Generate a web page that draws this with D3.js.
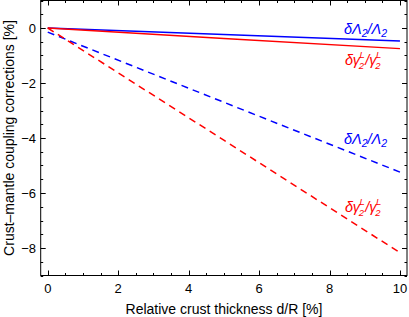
<html>
<head>
<script src="https://cdn.jsdelivr.net/npm/d3@7"></script>
<style>
body { margin: 0; background: #fff; }
text { font-family: "Liberation Sans", Arial, sans-serif; }
</style>
</head>
<body>
<svg id="chart" width="409" height="317"></svg>
<script>
var thickness = [0, 5, 10];
var lambdaSolid = [0, -0.24, -0.47];
var gammaSolid = [0, -0.38, -0.75];
var lambdaDashed = [-0.15, -2.70, -5.24];
var gammaDashed = [0, -4.08, -8.17];
var xTicks = [0, 2, 4, 6, 8, 10];
var yTicks = [0, -2, -4, -6, -8];

var svg = d3.select("#chart");
var pl = 40.7, pr = 407, pt = 0.5, pb = 275.5;

var x = d3.scaleLinear().domain([-0.2, 10.2]).range([pl, pr]);
var y = d3.scaleLinear().domain([1, -9]).range([pt, pb]);

var xMinor = d3.range(0, 10.01, 0.5);
var yMinor = d3.range(-9, 1.01, 0.5);

// frame
svg.append("rect")
  .attr("x", pl).attr("y", pt)
  .attr("width", pr - pl).attr("height", pb - pt)
  .attr("fill", "none").attr("stroke", "#000").attr("stroke-width", 1);

// ticks on all four sides, pointing inward
var g = svg.append("g").attr("stroke", "#000").attr("stroke-width", 1);
xMinor.forEach(function(v) {
  var len = (Math.abs(v % 2) < 1e-6) ? 5 : 2.5;
  var px = Math.round(x(v)) + 0.5;
  g.append("line").attr("x1", px).attr("x2", px).attr("y1", pb).attr("y2", pb - len);
  g.append("line").attr("x1", px).attr("x2", px).attr("y1", pt).attr("y2", pt + len);
});
yMinor.forEach(function(v) {
  var len = (Math.abs(v % 2) < 1e-6) ? 5 : 2.5;
  var py = Math.round(y(v)) + 0.5;
  g.append("line").attr("y1", py).attr("y2", py).attr("x1", pl).attr("x2", pl + len);
  g.append("line").attr("y1", py).attr("y2", py).attr("x1", pr).attr("x2", pr - len);
});

svg.selectAll(".xl").data(xTicks).enter().append("text")
  .attr("x", function(d) { return x(d); })
  .attr("y", 292.5)
  .attr("text-anchor", "middle")
  .attr("font-size", 13)
  .text(function(d) { return d; });

svg.selectAll(".yl").data(yTicks).enter().append("text")
  .attr("x", 36)
  .attr("y", function(d) { return y(d) + 4.5; })
  .attr("text-anchor", "end")
  .attr("font-size", 13)
  .text(function(d) { return d < 0 ? "\u2212" + (-d) : d; });

svg.append("text")
  .attr("x", 224).attr("y", 314)
  .attr("text-anchor", "middle")
  .attr("font-size", 14)
  .text("Relative crust thickness d/R [%]");

svg.append("text")
  .attr("transform", "translate(14,138) rotate(-90)")
  .attr("text-anchor", "middle")
  .attr("font-size", 14)
  .text("Crust\u2013mantle coupling corrections [%]");

var line = d3.line()
  .x(function(d, i) { return x(thickness[i]); })
  .y(function(d) { return y(d); });

var series = [
  { v: lambdaSolid, c: "#0000ff", dash: null },
  { v: gammaSolid, c: "#ff0000", dash: null },
  { v: lambdaDashed, c: "#0000ff", dash: "7,5" },
  { v: gammaDashed, c: "#ff0000", dash: "7,5" }
];
svg.selectAll(".curve").data(series).enter().append("path")
  .attr("d", function(d) { return line(d.v); })
  .attr("fill", "none")
  .attr("stroke", function(d) { return d.c; })
  .attr("stroke-width", 1.5)
  .attr("stroke-dasharray", function(d) { return d.dash; });

function lambdaLabel(px, py) {
  var t = svg.append("text").attr("x", px).attr("y", py)
    .attr("fill", "#0000ff").attr("font-size", 14.5).attr("font-style", "italic");
  t.append("tspan").text("\u03b4\u039b");
  t.append("tspan").attr("font-size", 10.5).attr("dy", 3).text("2");
  t.append("tspan").attr("dy", -3).text("/\u039b");
  t.append("tspan").attr("font-size", 10.5).attr("dy", 3).text("2");
}
function gammaLabel(px, py) {
  var t = svg.append("text").attr("x", px).attr("y", py)
    .attr("fill", "#ff0000").attr("font-size", 14.5).attr("font-style", "italic");
  t.append("tspan").text("\u03b4\u03b3");
  t.append("tspan").attr("font-size", 9.5).attr("dy", -7).attr("dx", -0.5).text("L");
  t.append("tspan").attr("font-size", 9.5).attr("dy", 11).attr("dx", -6).text("2");
  t.append("tspan").attr("dy", -4).attr("dx", 1).text("/\u03b3");
  t.append("tspan").attr("font-size", 9.5).attr("dy", -7).attr("dx", -0.5).text("L");
  t.append("tspan").attr("font-size", 9.5).attr("dy", 11).attr("dx", -6).text("2");
}
lambdaLabel(344, 34);
gammaLabel(345, 65);
lambdaLabel(344, 144);
gammaLabel(345, 212);
</script>
</body>
</html>
